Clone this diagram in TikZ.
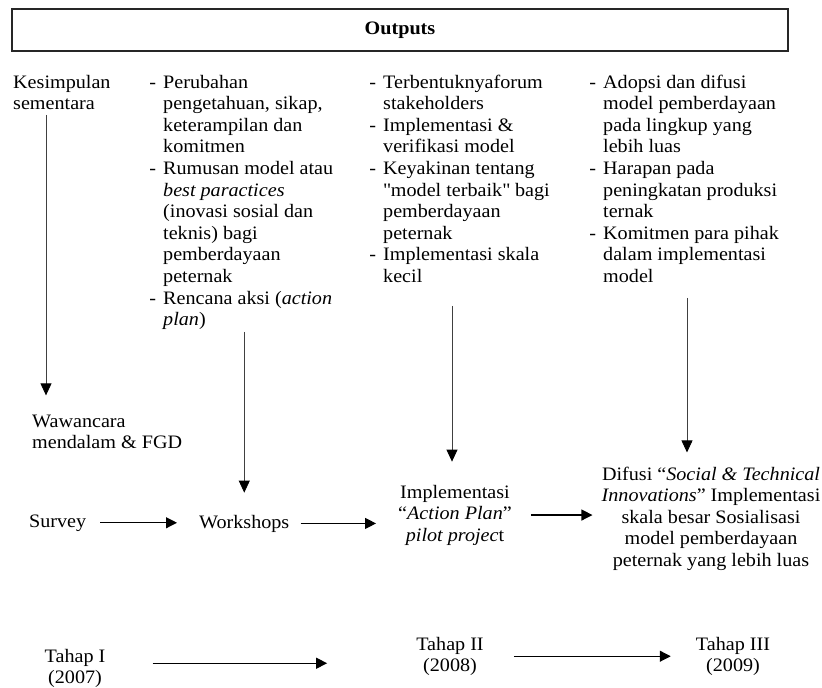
\documentclass[tikz,border=0pt]{standalone}
\usepackage{fontspec}
\setmainfont{Liberation Serif}[FakeStretch=1.06]
\usetikzlibrary{arrows.meta, positioning, calc}
\newcommand{\Item}{\llap{-\hspace{7pt}}}
\tikzset{
    txt/.style={inner sep=0pt, align=left, font=\fontsize{19}{21.6}\selectfont},
    ctxt/.style={txt, align=center},
    flow/.style={-{Triangle[length=11pt, width=11pt]}, line width=1.1pt},
    down/.style={-{Triangle[length=12pt, width=11pt, color=black]}, line width=0.8pt, draw=black!75},
}

\begin{document}
\begin{tikzpicture}[x=1pt, y=-1pt]
    \useasboundingbox (0,0) rectangle (822,688);

    \node[draw=black!85, line width=1.2pt, minimum width=776pt, minimum height=42pt,
      font=\fontsize{19}{21.6}\selectfont\bfseries] (outputs) at (400,30) {Outputs};

    % outputs per stage (anchored at the baseline of the last line)
    \node[txt, anchor=base west] (kes) at (13,109.6) {Kesimpulan\\sementara};
    \node[txt, anchor=base west] (list2) at (163,325.6) {%
      \Item Perubahan\\
      pengetahuan, sikap,\\
      keterampilan dan\\
      komitmen\\
      \Item Rumusan model atau\\
      \textit{best paractices}\\
      (inovasi sosial dan\\
      teknis) bagi\\
      pemberdayaan\\
      peternak\\
      \Item Rencana aksi (\textit{action}\\
      \textit{plan})};
    \node[txt, anchor=base west] (list3) at (383,282.4) {%
      \Item Terbentuknyaforum\\
      stakeholders\\
      \Item Implementasi \&\\
      verifikasi model\\
      \Item Keyakinan tentang\\
      \textquotedbl model terbaik\textquotedbl\ bagi\\
      pemberdayaan\\
      peternak\\
      \Item Implementasi skala\\
      kecil};
    \node[txt, anchor=base west] (list4) at (603,282.4) {%
      \Item Adopsi dan difusi\\
      model pemberdayaan\\
      pada lingkup yang\\
      lebih luas\\
      \Item Harapan pada\\
      peningkatan produksi\\
      ternak\\
      \Item Komitmen para pihak\\
      dalam implementasi\\
      model};

    % activities
    \node[txt, anchor=base west] (waw) at (32,448.6) {Wawancara\\mendalam \& FGD};
    \node[txt, anchor=base west] (survey) at (29,527) {Survey};
    \node[txt, anchor=base west] (work) at (199,528) {Workshops};
    \node[ctxt, anchor=base] (impl) at (455,541.2) {Implementasi\\
      “\textit{Action Plan}”\\
      \textit{pilot projec}t};
    \node[ctxt, anchor=base] (dif) at (711,566.4) {Difusi “\textit{Social \& Technical}\\
      \textit{Innovations}” Implementasi\\
      skala besar Sosialisasi\\
      model pemberdayaan\\
      peternak yang lebih luas};

    % stages
    \node[ctxt, anchor=base] (t1) at (75,683.6) {Tahap I\\(2007)};
    \node[ctxt, anchor=base] (t2) at (450,671.6) {Tahap II\\(2008)};
    \node[ctxt, anchor=base] (t3) at (733,671.6) {Tahap III\\(2009)};

    \coordinate (kesx) at ([xshift=33pt]kes.south west);
    \coordinate (l3x) at ([xshift=69pt]list3.south west);
    \coordinate (l4x) at ([xshift=84pt]list4.south west);
    \coordinate (t1o) at ([yshift=5pt]t1.east);

    \draw[down, shorten <=5pt, shorten >=19pt] (kesx) -- (kesx |- waw.north);
    \draw[down, shorten <=2pt, shorten >=22pt] (list2.south -| work.north) -- (work.north);
    \draw[down, shorten <=23pt, shorten >=23pt] (l3x) -- (l3x |- impl.north);
    \draw[down, shorten <=15pt, shorten >=14pt] (l4x) -- (l4x |- dif.north);

    \draw[flow, shorten <=14pt, shorten >=22pt] (survey.east) -- (survey.east -| work.west);
    \draw[flow, shorten <=11pt, shorten >=22pt] (work.east) -- (work.east -| impl.west);
    \draw[flow, shorten <=19pt, shorten >=9pt] (impl.east) -- (impl.east -| dif.west);

    \draw[flow, shorten <=47pt, shorten >=89pt] (t1o) -- (t1o -| t2.west);
    \draw[flow, shorten <=30pt, shorten >=25pt] (t2.east) -- (t2.east -| t3.west);
\end{tikzpicture}
\end{document}
